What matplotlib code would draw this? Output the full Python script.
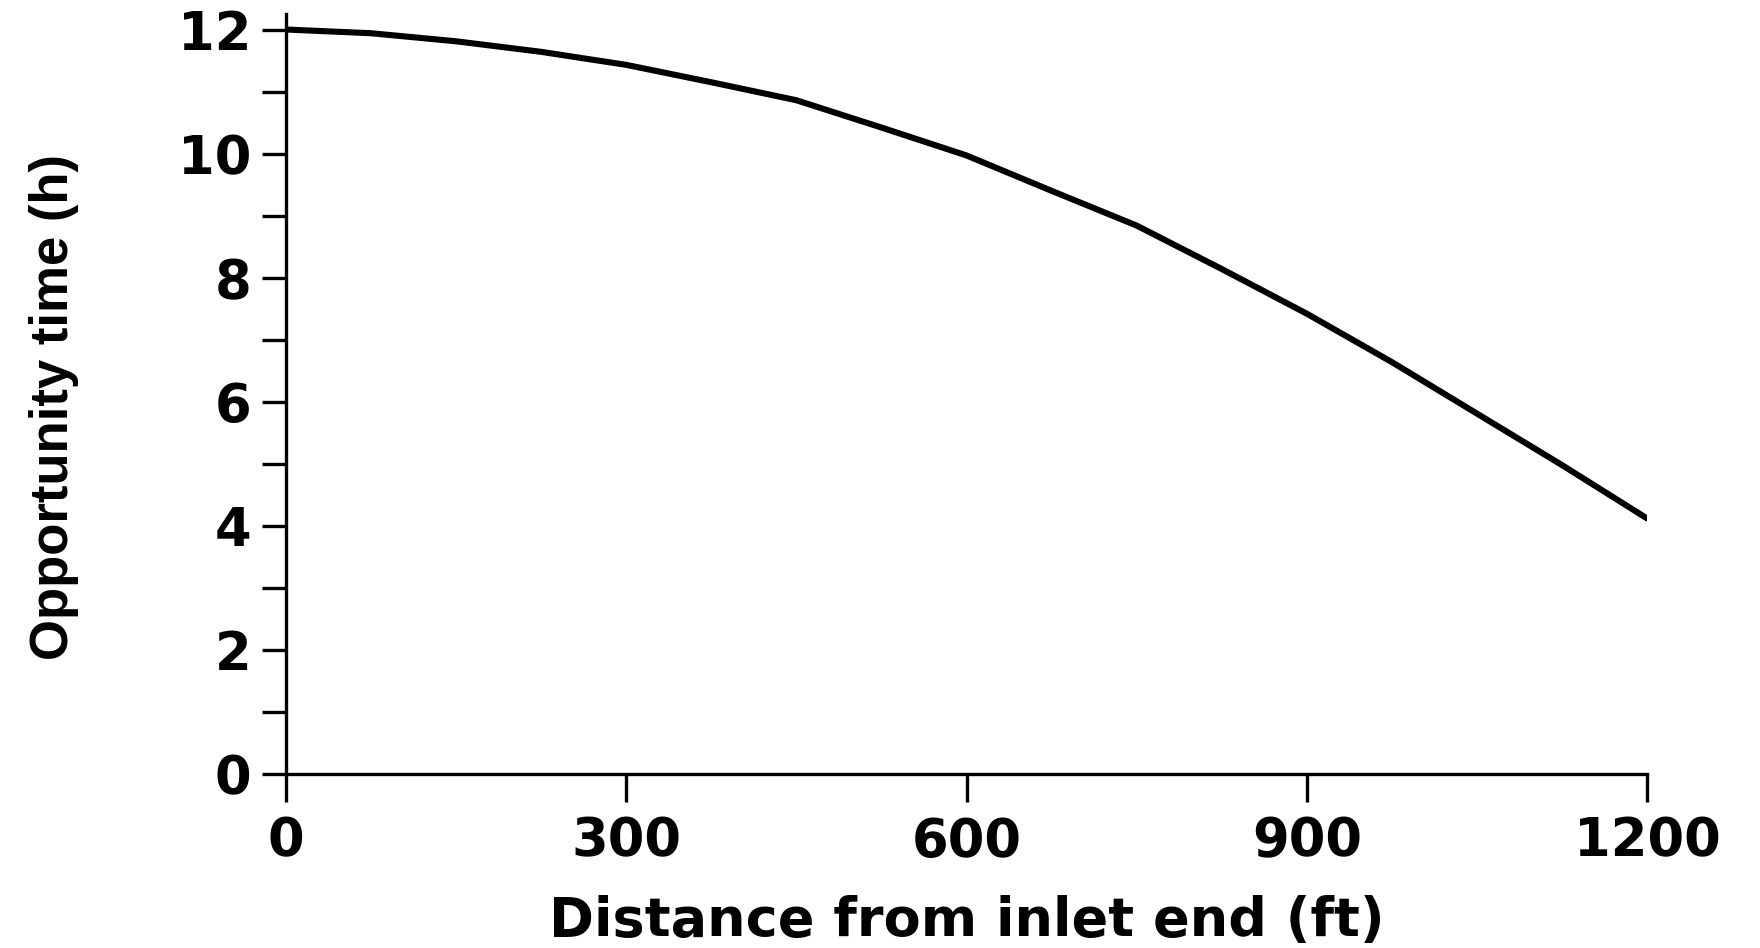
import matplotlib
matplotlib.use("Agg")
import matplotlib.pyplot as plt
import matplotlib.ticker as tck

# values
distance_ft = [0, 75, 150, 225, 300, 375, 450, 525, 600, 675, 750, 825, 900, 975, 1050, 1125, 1200]
opportunity_h = [12.0, 11.94, 11.81, 11.64, 11.43, 11.15, 10.86, 10.42, 9.97, 9.40,
                 8.84, 8.14, 7.42, 6.64, 5.81, 4.98, 4.12]

x_ticks = [0, 300, 600, 900, 1200]
y_ticks = [0, 2, 4, 6, 8, 10, 12]

plt.rcParams['font.family'] = ['DejaVu Sans']

fig = plt.figure(figsize=(17.6, 9.48), dpi=100)
ax = fig.add_axes([286 / 1760, 1 - 774 / 948, (1647 - 286) / 1760, (774 - 14) / 948])

ax.plot(distance_ft, opportunity_h, color='black', linewidth=4.4,
        solid_capstyle='round', solid_joinstyle='round')

ax.set_xlim(0, 1200)
ax.set_ylim(0, 12.25)
ax.set_xticks(x_ticks)
ax.set_yticks(y_ticks)
ax.yaxis.set_minor_locator(tck.MultipleLocator(1))

for side in ['top', 'right']:
    ax.spines[side].set_visible(False)
for side in ['left', 'bottom']:
    ax.spines[side].set_linewidth(2.4)

ax.tick_params(axis='y', which='both', direction='out', length=17, width=2.4, labelsize=38, pad=8)
ax.tick_params(axis='x', which='major', direction='out', length=20, width=2.4, labelsize=38, pad=10)
for lab in ax.get_xticklabels() + ax.get_yticklabels():
    lab.set_fontweight('bold')

ax.set_xlabel("Distance from inlet end (ft)", fontsize=39, fontweight='bold', labelpad=20)
# narrower face for the y label, the original lettering there is condensed
ax.set_ylabel("Opportunity time (h)", fontsize=38, fontweight='bold',
              family=['Liberation Sans', 'DejaVu Sans'])
ax.yaxis.set_label_coords(-0.152, 0.483)

fig.savefig("out.png", dpi=100)
